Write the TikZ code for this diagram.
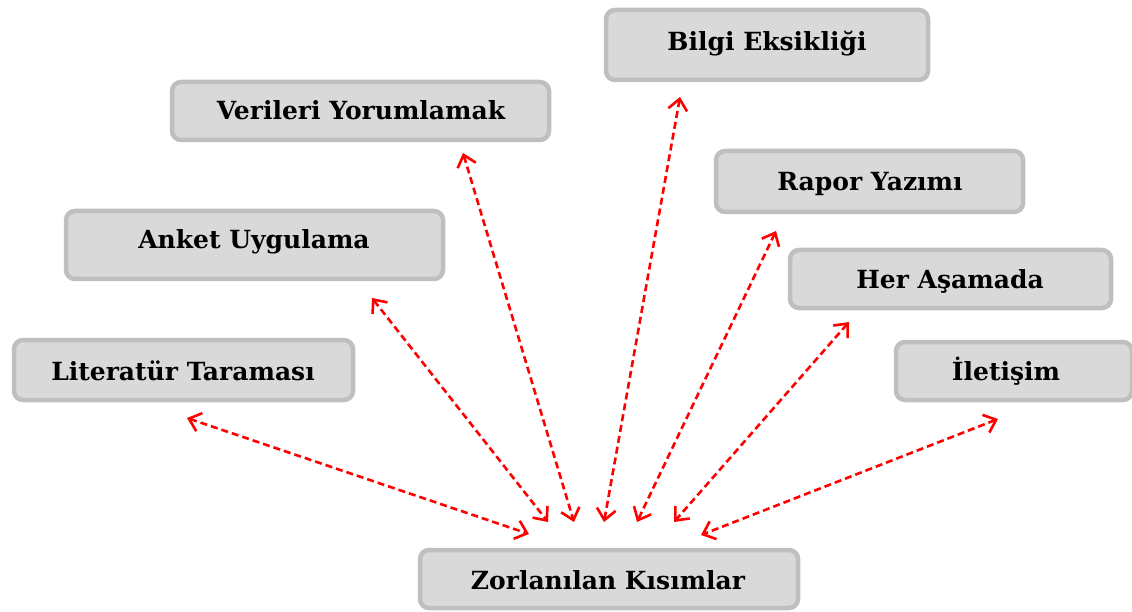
\documentclass[tikz,border=0pt]{standalone}
\usepackage{fontspec}
\setmainfont{DejaVu Serif}
\usetikzlibrary{arrows.meta}
\definecolor{boxfill}{HTML}{D9D9D9}
\definecolor{boxline}{HTML}{BFBFBF}
\definecolor{arrred}{HTML}{FF0000}
\tikzset{
  box/.style={draw=boxline, fill=boxfill, line width=4.5pt, rounded corners=9pt, inner sep=0pt},
  lbl/.style={font=\fontsize{25}{28}\selectfont\bfseries, anchor=base, inner sep=0pt},
  link/.style={draw=arrred, line width=2.6pt, dash pattern=on 7pt off 4pt,
    {Straight Barb[length=11pt,width=19pt,line width=2.6pt]}-{Straight Barb[length=11pt,width=19pt,line width=2.6pt]}}
}
\begin{document}
\begin{tikzpicture}[x=1pt,y=-1pt]
\useasboundingbox (0,0) rectangle (1132,612);
% boxes
\node[box, minimum width=322pt, minimum height=70pt] (bilgi) at (767,45) {};
\node[box, minimum width=377pt, minimum height=58pt] (veri) at (360.5,111) {};
\node[box, minimum width=307pt, minimum height=61pt] (rapor) at (869.5,181.5) {};
\node[box, minimum width=377pt, minimum height=68pt] (anket) at (254.5,245) {};
\node[box, minimum width=321pt, minimum height=58pt] (her) at (950.5,279) {};
\node[box, minimum width=339pt, minimum height=60pt] (lit) at (183.5,370) {};
\node[box, minimum width=236pt, minimum height=58pt] (ilet) at (1014,371) {};
\node[box, minimum width=378pt, minimum height=58pt] (zor) at (609,579) {};
% labels
\node[lbl] (bilgi-t) at (767,51) {Bilgi Eksikliği};
\node[lbl] (veri-t) at (361,120) {Verileri Yorumlamak};
\node[lbl] (rapor-t) at (870,191) {Rapor Yazımı};
\node[lbl] (anket-t) at (254,249) {Anket Uygulama};
\node[lbl] (her-t) at (950,289) {Her Aşamada};
\node[lbl] (lit-t) at (183,380) {Literatür Taraması};
\node[lbl] (ilet-t) at (1006,380) {İletişim};
\node[lbl] (zor-t) at (608,589) {Zorlanılan Kısımlar};
% arrow ends
\coordinate (a1) at (187,418); \coordinate (b1) at (529,534);
\coordinate (a2) at (372,298); \coordinate (b2) at (548,522);
\coordinate (a3) at (463,153); \coordinate (b3) at (574,522);
\coordinate (a4) at (680,97);  \coordinate (b4) at (604,522);
\coordinate (a5) at (776,231); \coordinate (b5) at (637,522);
\coordinate (a6) at (849,322); \coordinate (b6) at (674,522);
\coordinate (a7) at (998,419); \coordinate (b7) at (701,535);
\foreach \i in {1,...,7} { \draw[link] (a\i) -- (b\i); }
\end{tikzpicture}
\end{document}
